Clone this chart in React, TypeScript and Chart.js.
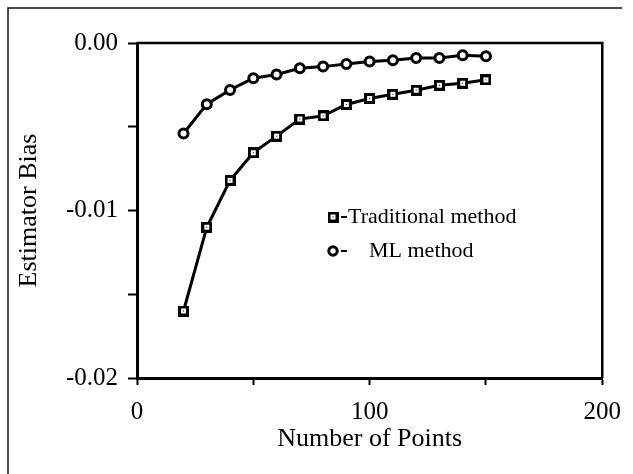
import React, { useEffect, useRef } from "react";
import { Chart, registerables } from "chart.js";

Chart.register(...registerables);

const pointsX = [20, 30, 40, 50, 60, 70, 80, 90, 100, 110, 120, 130, 140, 150];
const traditional = [-0.016, -0.011, -0.0082, -0.00655, -0.00556, -0.00454, -0.00435, -0.00367, -0.00331, -0.00306, -0.00282, -0.00252, -0.0024, -0.0022];
const mlMethod = [-0.0054, -0.00365, -0.0028, -0.0021, -0.00188, -0.00151, -0.00141, -0.00125, -0.00111, -0.00103, -0.00089, -0.00089, -0.00073, -0.00079];
const seriesLabels = ["Traditional method", "ML method"];
const yLabelTicks = [0, -0.01, -0.02];
const xLabelTicks = [0, 100, 200];
const xTitle = "Number of Points";
const yTitle = "Estimator Bias";

const FONT = '"Liberation Serif", "Times New Roman", serif';

function makeSquare(): HTMLCanvasElement {
  const c = document.createElement("canvas");
  c.width = 11;
  c.height = 11;
  const g = c.getContext("2d")!;
  g.fillStyle = "#000";
  g.fillRect(0, 0, 11, 11);
  g.fillStyle = "#fff";
  g.fillRect(3, 3, 5, 5);
  g.fillStyle = "#000";
  g.fillRect(5, 5, 1, 1);
  return c;
}

export default function App() {
  const ref = useRef<HTMLCanvasElement | null>(null);

  useEffect(() => {
    if (!ref.current) return;
    const square = makeSquare();

    const framePlugin = {
      id: "frame",
      beforeDraw(chart: any) {
        const ctx = chart.ctx;
        ctx.save();
        ctx.fillStyle = "#fff";
        ctx.fillRect(0, 0, chart.width, chart.height);
        ctx.strokeStyle = "#111";
        ctx.lineWidth = 1.5;
        ctx.beginPath();
        ctx.moveTo(8, 474);
        ctx.lineTo(8, 8);
        ctx.lineTo(622, 8);
        ctx.stroke();
        ctx.restore();
      },
      afterDraw(chart: any) {
        const ctx = chart.ctx;
        const ca = chart.chartArea;
        ctx.save();
        ctx.strokeStyle = "#000";
        ctx.lineWidth = 2.5;
        ctx.beginPath();
        ctx.moveTo(ca.left, ca.top);
        ctx.lineTo(ca.right, ca.top);
        ctx.lineTo(ca.right, ca.bottom);
        ctx.stroke();

        // legend
        const x0 = ca.left + 196;
        const rows = [ca.top + 174, ca.top + 208];
        ctx.font = "22px " + FONT;
        ctx.fillStyle = "#000";
        ctx.textBaseline = "middle";
        ctx.textAlign = "left";
        rows.forEach((y: number, i: number) => {
          if (i === 0) {
            ctx.drawImage(square, x0 - 5.5, y - 5.5);
          } else {
            ctx.beginPath();
            ctx.arc(x0, y, 4.2, 0, Math.PI * 2);
            ctx.fillStyle = "#fff";
            ctx.fill();
            ctx.lineWidth = 3;
            ctx.strokeStyle = "#000";
            ctx.stroke();
            ctx.fillStyle = "#000";
          }
          ctx.lineWidth = 2;
          ctx.beginPath();
          ctx.moveTo(x0 + 8, y);
          ctx.lineTo(x0 + 14, y);
          ctx.stroke();
          ctx.fillText(seriesLabels[i], i === 0 ? x0 + 15 : x0 + 36, y);
        });
        ctx.restore();
      },
    };

    const chart = new Chart(ref.current, {
      type: "line",
      data: {
        datasets: [
          {
            label: seriesLabels[0],
            data: pointsX.map((x, i) => ({ x, y: traditional[i] })),
            borderColor: "#000",
            borderWidth: 3,
            pointStyle: square as any,
            pointRadius: 6,
            backgroundColor: "#fff",
            tension: 0,
          },
          {
            label: seriesLabels[1],
            data: pointsX.map((x, i) => ({ x, y: mlMethod[i] })),
            borderColor: "#000",
            borderWidth: 3,
            pointStyle: "circle",
            pointRadius: 4.5,
            pointBorderWidth: 3,
            pointBackgroundColor: "#fff",
            backgroundColor: "#fff",
            tension: 0,
          },
        ],
      },
      options: {
        responsive: false,
        animation: false,
        layout: { padding: { top: 43, right: 29, left: 0, bottom: 0 } },
        plugins: {
          legend: { display: false },
          tooltip: { enabled: false },
        },
        scales: {
          x: {
            type: "linear",
            min: 0,
            max: 200,
            afterFit(scale: any) {
              scale.height = 96;
            },
            ticks: {
              stepSize: 50,
              color: "#000",
              font: { family: FONT, size: 25 },
              padding: 12,
              maxRotation: 0,
              callback: (v: any) => (xLabelTicks.includes(Number(v)) ? String(v) : ""),
            },
            grid: {
              drawOnChartArea: false,
              drawTicks: true,
              tickLength: 7,
              tickColor: "#000",
              tickWidth: 2,
            },
            border: { display: true, color: "#000", width: 3 },
            title: {
              display: true,
              text: xTitle,
              color: "#000",
              font: { family: FONT, size: 26 },
              padding: { top: 0, bottom: 19 },
            },
          },
          y: {
            type: "linear",
            min: -0.02,
            max: 0,
            afterFit(scale: any) {
              scale.width = 137;
            },
            ticks: {
              stepSize: 0.005,
              color: "#000",
              font: { family: FONT, size: 25 },
              padding: 10,
              callback: (v: any) => {
                const n = Number(v);
                const hit = yLabelTicks.find((t) => Math.abs(t - n) < 1e-9);
                return hit !== undefined ? (hit === 0 ? "0.00" : hit.toFixed(2)) : "";
              },
            },
            grid: {
              drawOnChartArea: false,
              drawTicks: true,
              tickLength: 9,
              tickColor: "#000",
              tickWidth: 2,
            },
            border: { display: true, color: "#000", width: 3 },
            title: {
              display: true,
              text: yTitle,
              color: "#000",
              font: { family: FONT, size: 26 },
              padding: { top: 14, bottom: 0 },
            },
          },
        },
      },
      plugins: [framePlugin],
    } as any);

    return () => chart.destroy();
  }, []);

  return (
    <div style={{ position: "fixed", left: 0, top: 0, width: 633, height: 474, background: "#fff" }}>
      <canvas ref={ref} width={633} height={474} style={{ width: 633, height: 474, display: "block" }} />
    </div>
  );
}
